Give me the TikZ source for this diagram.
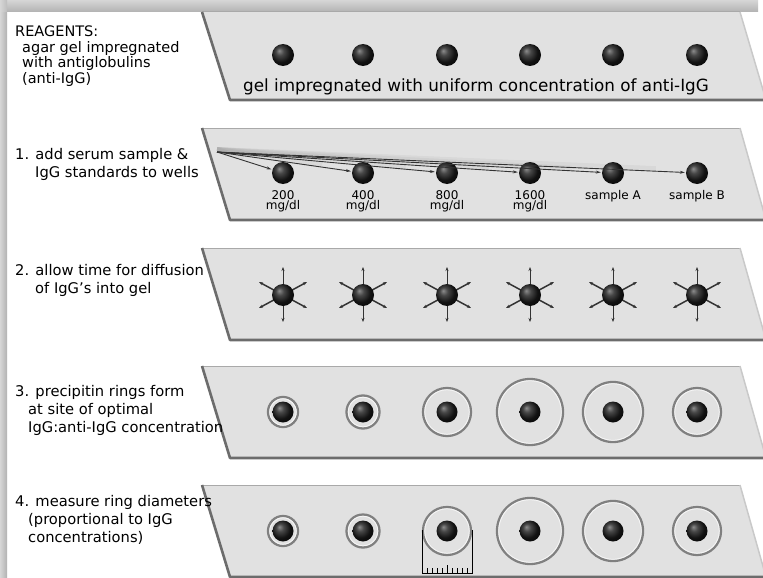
\documentclass[tikz,border=0pt]{standalone}
\usepackage{fontspec}
\setmainfont{DejaVu Sans}
\usetikzlibrary{arrows.meta}
\definecolor{panelfill}{HTML}{E1E1E1}
\definecolor{paneldark}{HTML}{6C6C6C}
\definecolor{panelline}{HTML}{A9A9A9}
\definecolor{panellight}{HTML}{C9C9C9}
\definecolor{ringgray}{HTML}{808080}
\definecolor{arrowgray}{HTML}{333333}
\definecolor{frameouter}{HTML}{D6D6D6}
\definecolor{frameinner}{HTML}{B2B2B2}
% dark sphere with a soft highlight towards the upper left
\pgfdeclareradialshading{wellball}{\pgfpoint{-9bp}{10bp}}{%
  color(0bp)=(black!45); color(9bp)=(black!72); color(22bp)=(black!93);
  color(40bp)=(black); color(50bp)=(black)}
\begin{document}
\begin{tikzpicture}[x=1pt,y=-1pt,
  well/.style={circle,inner sep=0pt,minimum size=22pt,shading=wellball},
  smallwell/.style={well,minimum size=21pt},
  steptext/.style={anchor=base west,inner sep=0pt,align=left,font=\fontsize{14.7}{18}\selectfont},
  reagtext/.style={steptext,font=\fontsize{14.5}{15.5}\selectfont},
  lab/.style={anchor=north,inner sep=0pt,align=center,font=\fontsize{12}{10.5}\selectfont},
  feed/.style={draw=arrowgray,line width=0.9pt,-{Stealth[length=5pt,width=3pt]},shorten >=1pt},
  feedshadow/.style={draw=black,line width=4pt,opacity=0.04,shorten >=30pt},
  spread/.style={draw=arrowgray,line width=1pt,-{Stealth[length=4pt,width=3pt]}},
  ring/.style={draw=ringgray,line width=2.3pt},
  ringhi/.style={draw=white,line width=0.9pt,opacity=0.7},
]
\useasboundingbox (0,0) rectangle (763,578);
\fill[white] (0,0) rectangle (763,578);

% frame shadow along the top and the left side
\shade[top color=frameouter,bottom color=frameinner] (0,0) rectangle (758,12);
\shade[left color=frameouter,right color=frameinner] (0,12) rectangle (7,578);
\shade[left color=frameouter,right color=frameinner!85] (0,0) rectangle (7,12);

% the five gel slabs
\foreach \t/\b in {12/100,128/220,248/340,366/458,485/577}{
  \fill[panelfill] (202,\t) -- (740,\t) -- (766,\b) -- (230,\b) -- cycle;
  \draw[panelline,line width=1pt] (202,\t) -- (740,\t);
  \draw[panellight,line width=1.5pt] (740,\t) -- (766,\b);
  \draw[paneldark,line width=2.6pt,line join=round] (202,\t) -- (230,\b) -- (766,\b);
}

% left-hand descriptions (each node sits on the baseline of its last line)
\node[reagtext] (reag) at (15,83) {REAGENTS:\\\hspace*{7pt}agar gel impregnated\\\hspace*{7pt}with antiglobulins\\\hspace*{7pt}(anti-IgG)};
\node[steptext] (s1) at (15,177) {1. add serum sample \&\\\hspace*{20pt}IgG standards to wells};
\node[steptext] (s2) at (15,293) {2. allow time for diffusion\\\hspace*{20pt}of IgG's into gel};
\node[steptext] (s3) at (15,432) {3. precipitin rings form\\\hspace*{13pt}at site of optimal\\\hspace*{13pt}IgG:anti-IgG concentration};
\node[steptext] (s4) at (15,542) {4. measure ring diameters\\\hspace*{13pt}(proportional to IgG\\\hspace*{13pt}concentrations)};

% row 0: empty wells in the impregnated gel
\foreach \x [count=\i] in {283,363,447,530,613,697}
  \node[well] (w0-\i) at (\x,55) {};
\node[anchor=base,inner sep=0pt,font=\fontsize{16.8}{18}\selectfont] (gel) at (476,92)
  {gel impregnated with uniform concentration of anti-IgG};

% row 1: loading the wells
\coordinate (src) at (217,152);
\foreach \x/\txt [count=\i] in {283/{200\\mg/dl},363/{400\\mg/dl},447/{800\\mg/dl},530/{1600\\mg/dl},613/{sample A},697/{sample B}}{
  \node[well] (w1-\i) at (\x,173) {};
  \node[lab] (l1-\i) at (\x,190) {\txt};
}
\foreach \i in {6,5,4,3,2,1}
  \draw[feedshadow,transform canvas={yshift=3pt}] (src) -- (w1-\i);
\foreach \i in {6,5,4,3,2,1}
  \draw[feed] (src) -- (w1-\i);

% row 2: diffusion outwards from each well
\foreach \x [count=\i] in {283,363,447,530,613,697}{
  \coordinate (c2-\i) at (\x,295);
  \coordinate (u2-\i) at (\x,267);
  \coordinate (d2-\i) at (\x,322);
  \coordinate (ul2-\i) at (\x-24,282);
  \coordinate (ur2-\i) at (\x+24,282);
  \coordinate (dl2-\i) at (\x-24,308);
  \coordinate (dr2-\i) at (\x+24,308);
  \draw[spread] (c2-\i) -- (u2-\i);
  \draw[spread] (c2-\i) -- (d2-\i);
  \draw[spread,line width=1.5pt] (c2-\i) -- (ul2-\i);
  \draw[spread,line width=1.5pt] (c2-\i) -- (ur2-\i);
  \draw[spread,line width=1.5pt] (c2-\i) -- (dl2-\i);
  \draw[spread,line width=1.5pt] (c2-\i) -- (dr2-\i);
  \node[well] (w2-\i) at (c2-\i) {};
}

% rows 3 and 4: precipitin rings
\foreach \y/\r in {3/412,4/531}{
  \foreach \x/\rad [count=\i] in {283/15,363/16.5,447/24,530/33,613/30,697/24}{
    \draw[ring] (\x,\r) circle[radius=\rad];
    \draw[ringhi] (\x,\r) circle[radius=\rad-1.7];
    \node[smallwell] (w\y-\i) at (\x,\r) {};
  }
}

% ruler under the 800 mg/dl ring
\draw[black,line width=0.8pt] (422,530) -- (422,573) -- (472,573) -- (472,530);
\foreach \k in {1,...,9}
  \draw[black,line width=0.8pt] (422+5*\k,573) -- ++(0,{\k==5 ? -8 : -5});

\end{tikzpicture}
\end{document}
